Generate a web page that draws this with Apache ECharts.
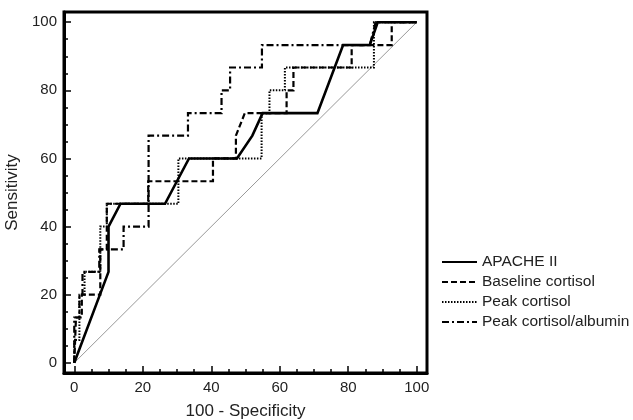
<!DOCTYPE html>
<html>
<head>
<meta charset="utf-8">
<script src="https://cdn.jsdelivr.net/npm/echarts@6/dist/echarts.min.js"></script>
<style>
html, body { margin: 0; padding: 0; background: #fff; }
#main { width: 633px; height: 420px; }
</style>
</head>
<body>
<div id="main"></div>
<script>
// ROC curves, 100 - specificity (x) vs sensitivity (y)
var apacheX = [0, 10, 10, 13.5, 26.5, 33.5, 47.5, 52, 55, 71, 78.5, 86.3, 88.6, 100];
var apacheY = [0, 26.7, 40, 46.7, 46.7, 60, 60, 66.7, 73.3, 73.3, 93.3, 93.3, 100, 100];

var baselineX = [0, 0.5, 2.2, 2.2, 7.6, 7.6, 9.5, 9.5, 21.6, 21.6, 40.5, 40.5, 47.2, 47.2, 49.8, 62, 62, 64, 64, 81, 81, 92.7, 92.7, 100];
var baselineY = [0, 13.3, 13.3, 20, 20, 33.3, 33.3, 46.7, 46.7, 53.3, 53.3, 60, 60, 66.7, 73.3, 73.3, 80, 80, 86.7, 86.7, 93.3, 93.3, 100, 100];

var peakX = [0, 0, 1.5, 1.5, 3, 3, 7.6, 7.6, 9.5, 9.5, 30.4, 30.4, 54.7, 54.7, 57, 57, 61.5, 61.5, 87.5, 87.5, 100];
var peakY = [0, 6.7, 6.7, 20, 20, 26.7, 26.7, 40, 40, 46.7, 46.7, 60, 60, 73.3, 73.3, 80, 80, 86.7, 86.7, 100, 100];

var albuminX = [0, 0, 1.5, 1.5, 2.4, 2.4, 7.3, 7.3, 14.4, 14.4, 21.7, 21.7, 33.2, 33.2, 43, 43, 45.5, 45.5, 54.8, 54.8, 86.3, 88, 100];
var albuminY = [0, 13.3, 13.3, 20, 20, 26.7, 26.7, 33.3, 33.3, 40, 40, 66.7, 66.7, 73.3, 73.3, 80, 80, 86.7, 86.7, 93.3, 93.3, 100, 100];

var diagX = [0, 100];
var diagY = [0, 100];

var majorTicks = [0, 20, 40, 60, 80, 100];
var minorTicks = [0, 5, 10, 15, 20, 25, 30, 35, 40, 45, 50, 55, 60, 65, 70, 75, 80, 85, 90, 95, 100];

var seriesNames = ['APACHE II', 'Baseline cortisol', 'Peak cortisol', 'Peak cortisol/albumin'];

function zip(xs, ys) {
    var out = [];
    for (var i = 0; i < xs.length; i++) {
        out.push([xs[i], ys[i]]);
    }
    return out;
}

var myChart = echarts.init(document.getElementById('main'));

var font = 'Liberation Sans, Arial, sans-serif';

function mainAxis(name, pos) {
    return {
        type: 'value',
        position: pos,
        min: -3,
        max: 103,
        name: name,
        nameLocation: 'middle',
        nameGap: pos === 'left' ? 42 : 30,
        nameTextStyle: {fontFamily: font, fontSize: 17, color: '#222'},
        axisLine: {show: true, onZero: false, lineStyle: {color: '#000', width: 3}},
        axisTick: {show: true, inside: true, length: 7, customValues: majorTicks, lineStyle: {color: '#000', width: 1.5}},
        axisLabel: {customValues: majorTicks, fontFamily: font, fontSize: 15, color: '#222', margin: 7},
        splitLine: {show: false}
    };
}

function minorAxis(pos) {
    return {
        type: 'value',
        position: pos,
        min: -3,
        max: 103,
        axisLine: {show: false, onZero: false},
        axisTick: {show: true, inside: true, length: 4, customValues: minorTicks, lineStyle: {color: '#000', width: 1.5}},
        axisLabel: {show: false},
        splitLine: {show: false}
    };
}

function curve(name, data, type, width) {
    return {
        name: name,
        type: 'line',
        data: data,
        symbol: 'none',
        silent: true,
        animation: false,
        lineStyle: {color: '#000', width: width, type: type, cap: 'butt', join: 'miter'},
        itemStyle: {color: '#000'}
    };
}

var option = {
    backgroundColor: '#fff',
    animation: false,
    grid: {
        left: 64,
        right: 206,
        top: 12,
        bottom: 47,
        outerBoundsMode: 'none',
        show: true,
        borderColor: '#000',
        borderWidth: 3
    },
    legend: {
        data: seriesNames,
        orient: 'vertical',
        left: 436,
        top: 249,
        itemWidth: 35,
        itemHeight: 14,
        itemGap: 4,
        itemStyle: {opacity: 0},
        textStyle: {fontFamily: font, fontSize: 15.5, color: '#222'}
    },
    xAxis: [mainAxis('100 - Specificity', 'bottom'), minorAxis('bottom')],
    yAxis: [mainAxis('Sensitivity', 'left'), minorAxis('left')],
    series: [
        {
            type: 'line',
            data: zip(diagX, diagY),
            symbol: 'none',
            silent: true,
            lineStyle: {color: '#999', width: 1}
        },
        curve(seriesNames[3], zip(albuminX, albuminY), [7, 3, 2, 3], 2.2),
        curve(seriesNames[2], zip(peakX, peakY), [1.5, 1.5], 2),
        curve(seriesNames[1], zip(baselineX, baselineY), [6, 3], 2.2),
        curve(seriesNames[0], zip(apacheX, apacheY), 'solid', 2.6)
    ]
};

myChart.setOption(option);
</script>
</body>
</html>
